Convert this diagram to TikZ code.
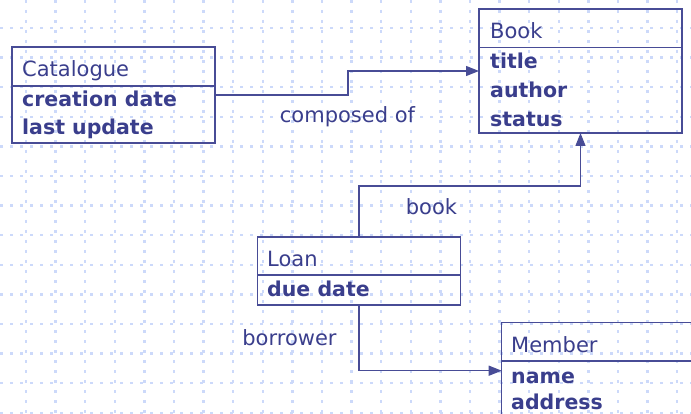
\documentclass[tikz,border=0pt]{standalone}
\usepackage{fontspec}
\setmainfont{DejaVu Sans}
\usetikzlibrary{arrows.meta}
\definecolor{ink}{RGB}{58,62,140}
\definecolor{edge}{RGB}{72,76,150}
\definecolor{gridblue}{RGB}{204,217,250}
\begin{document}
\begin{tikzpicture}[x=1pt,y=-1pt,
  gridline/.style={draw=gridblue, line width=2.4pt, dash pattern=on 3pt off 7pt},
  classbox/.style={draw=edge, line width=1.4pt, inner sep=0pt, outer sep=0pt},
  divider/.style={draw=edge, line width=1.2pt},
  txt/.style={text=ink, inner sep=0pt, anchor=base west, font=\fontsize{21}{25}\selectfont},
  attr/.style={txt, font=\fontsize{20.5}{25}\selectfont\bfseries},
  link/.style={draw=edge, line width=1.3pt},
  arrowlink/.style={link, -{Triangle[length=13pt,width=10pt]}}]
\useasboundingbox (0,0) rectangle (691,414);
\clip (0,0) rectangle (691,414);

% background dotted grid
\foreach \i in {0,...,22} \draw[gridline] ({26+29.6*\i},0) -- ({26+29.6*\i},414);
\foreach \j in {0,...,13} \draw[gridline] (0,{28+29.6*\j}) -- (691,{28+29.6*\j});

% Catalogue class
\node[classbox, minimum width=203pt, minimum height=96pt] (cat) at (113.5,95) {};
\draw[divider] (cat.west |- 0,86) -- (cat.east |- 0,86);
\node[txt] (catname) at (22,77) {Catalogue};
\node[attr] (cat1) at (22,107) {creation date};
\node[attr] (cat2) at (22,134.5) {last update};

% Book class
\node[classbox, minimum width=203pt, minimum height=124pt] (book) at (580.5,71) {};
\draw[divider] (book.west |- 0,47.5) -- (book.east |- 0,47.5);
\node[txt] (bookname) at (490,39) {Book};
\node[attr] (book1) at (490,69) {title};
\node[attr] (book2) at (490,98) {author};
\node[attr] (book3) at (490,127) {status};

% Loan class
\node[classbox, minimum width=203pt, minimum height=68pt] (loan) at (359,271) {};
\draw[divider] (loan.west |- 0,275) -- (loan.east |- 0,275);
\node[txt] (loanname) at (267,266) {Loan};
\node[attr] (loan1) at (267,296) {due date};

% Member class
\node[classbox, minimum width=200pt, minimum height=96pt] (member) at (601.7,370.7) {};
\draw[divider] (member.west |- 0,361) -- (member.east |- 0,361);
\node[txt] (membername) at (511,352) {Member};
\node[attr] (member1) at (511,383) {name};
\node[attr] (member2) at (511,409) {address};

% bend points of the associations
\coordinate (bendA) at (348,72);
\coordinate (bendB) at (359,186);

% associations
\draw[arrowlink] (cat.east) -- (cat.east -| bendA) |- (book.west);
\draw[arrowlink] (loan.north) -- (loan.north |- bendB) -| (book.south);
\draw[arrowlink] (loan.south) |- (member.west);

% association labels
\node[txt, anchor=base] (lblcomposed) at (347.5,122.5) {composed of};
\node[txt, anchor=base] (lblbook) at (431.5,215) {book};
\node[txt, anchor=base] (lblborrower) at (289.5,345.5) {borrower};
\end{tikzpicture}
\end{document}
